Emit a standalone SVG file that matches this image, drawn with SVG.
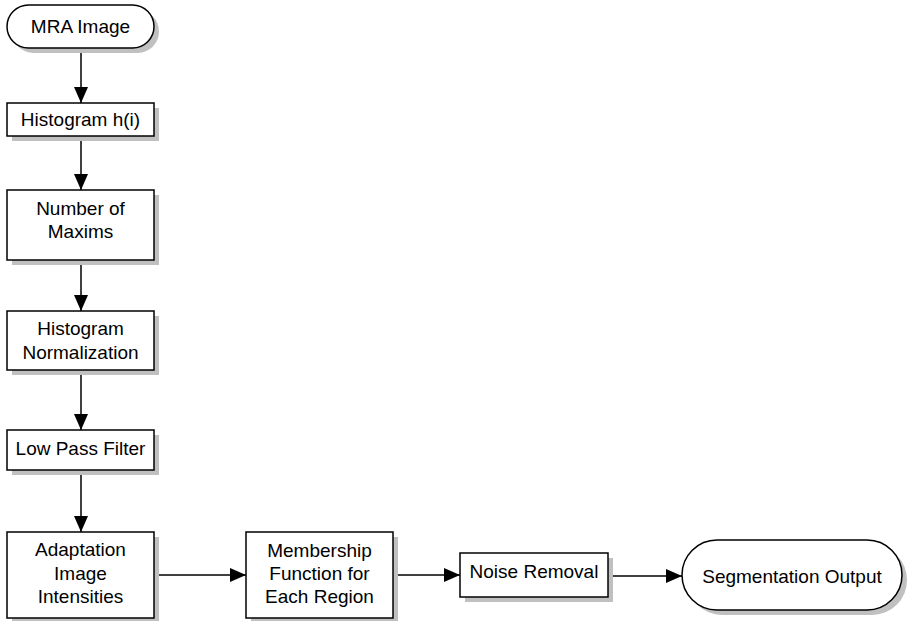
<svg xmlns="http://www.w3.org/2000/svg" width="908" height="621" viewBox="0 0 908 621">
<style>
.box{fill:#fff;stroke:#000;stroke-width:1.5}
.sh{fill:#c0c0c0}
.t{font-family:"Liberation Sans",Arial,sans-serif;font-size:19px;fill:#000;text-anchor:middle}
.c{stroke:#000;stroke-width:1.5;fill:none;marker-end:url(#ah)}
</style>
<defs>
<marker id="ah" markerWidth="16" markerHeight="14" refX="16" refY="7" orient="auto" markerUnits="userSpaceOnUse">
<path d="M0,0 L16,7 L0,14 Z" fill="#000"/>
</marker>
</defs>
<rect width="908" height="621" fill="#fff"/>
<g id="connectors">
<line class="c" x1="81" y1="48" x2="81" y2="103"/>
<line class="c" x1="81" y1="136" x2="81" y2="190"/>
<line class="c" x1="81" y1="260" x2="81" y2="311"/>
<line class="c" x1="81" y1="370" x2="81" y2="430"/>
<line class="c" x1="81" y1="470" x2="81" y2="532"/>
<line class="c" x1="154" y1="575" x2="246" y2="575"/>
<line class="c" x1="393" y1="575" x2="460" y2="575"/>
<line class="c" x1="608" y1="576" x2="682" y2="576"/>
</g>
<g id="mra">
<rect class="sh" x="12" y="10" width="147" height="43" rx="21.5"/>
<rect class="box" x="7" y="5" width="147" height="43" rx="21.5"/>
<text class="t" x="80.5" y="33">MRA Image</text>
</g>
<g id="hist">
<rect class="sh" x="12" y="108" width="147" height="33"/>
<rect class="box" x="7" y="103" width="147" height="33"/>
<text class="t" x="80.5" y="126">Histogram h(i)</text>
</g>
<g id="maxims">
<rect class="sh" x="12" y="195" width="147" height="70"/>
<rect class="box" x="7" y="190" width="147" height="70"/>
<text class="t" x="80.5" y="215">Number of</text>
<text class="t" x="80.5" y="238">Maxims</text>
</g>
<g id="norm">
<rect class="sh" x="12" y="316" width="147" height="59"/>
<rect class="box" x="7" y="311" width="147" height="59"/>
<text class="t" x="80.5" y="335">Histogram</text>
<text class="t" x="80.5" y="359">Normalization</text>
</g>
<g id="lpf">
<rect class="sh" x="12" y="435" width="147" height="40"/>
<rect class="box" x="7" y="430" width="147" height="40"/>
<text class="t" x="80.5" y="455">Low Pass Filter</text>
</g>
<g id="adapt">
<rect class="sh" x="12" y="537" width="147" height="86"/>
<rect class="box" x="7" y="532" width="147" height="86"/>
<text class="t" x="80.5" y="556">Adaptation</text>
<text class="t" x="80.5" y="580">Image</text>
<text class="t" x="80.5" y="603">Intensities</text>
</g>
<g id="member">
<rect class="sh" x="251" y="537" width="147" height="86"/>
<rect class="box" x="246" y="532" width="147" height="86"/>
<text class="t" x="319.5" y="557">Membership</text>
<text class="t" x="319.5" y="580">Function for</text>
<text class="t" x="319.5" y="603">Each Region</text>
</g>
<g id="noise">
<rect class="sh" x="465" y="558" width="148" height="44"/>
<rect class="box" x="460" y="553" width="148" height="44"/>
<text class="t" x="534" y="578">Noise Removal</text>
</g>
<g id="seg">
<rect class="sh" x="687" y="545" width="220" height="70" rx="35"/>
<rect class="box" x="682" y="540" width="220" height="70" rx="35"/>
<text class="t" x="792" y="583">Segmentation Output</text>
</g>
</svg>
